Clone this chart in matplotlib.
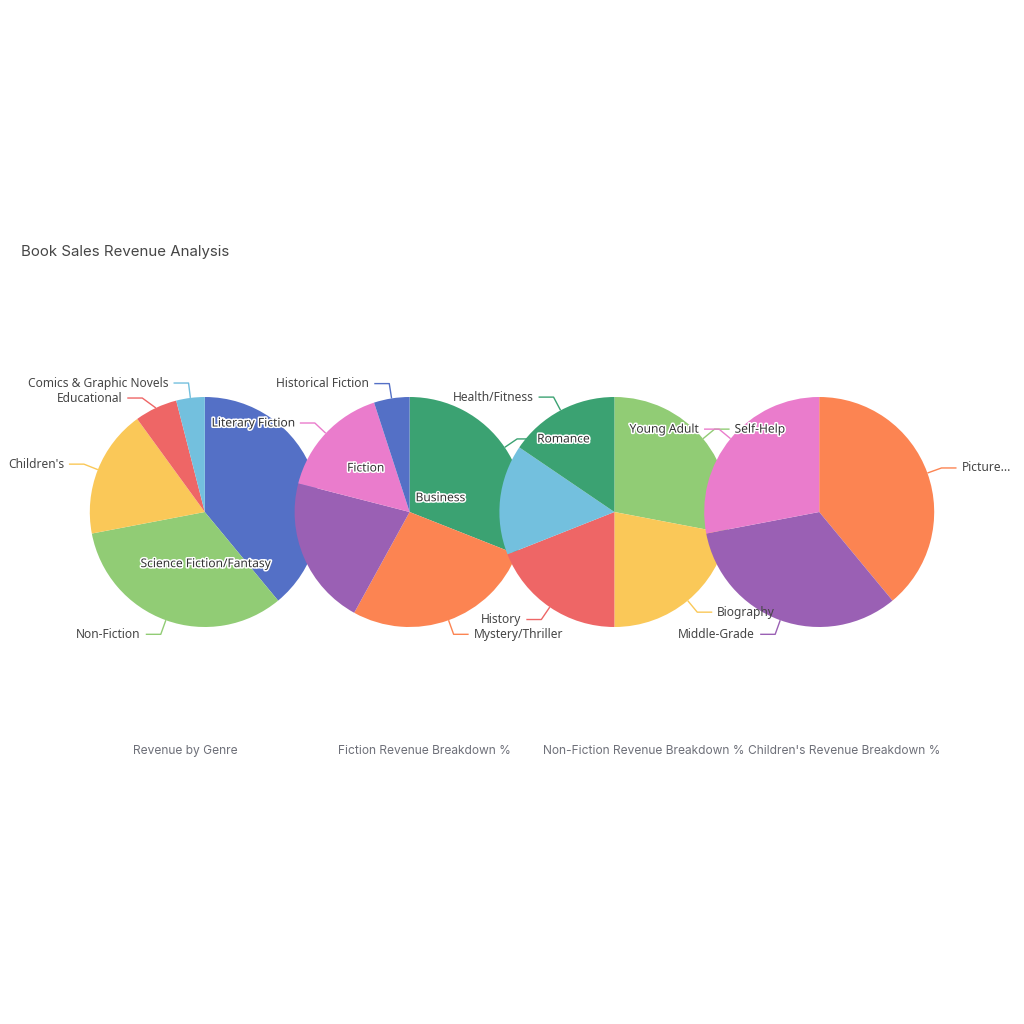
import numpy as np
import matplotlib
matplotlib.use("Agg")
import matplotlib.pyplot as plt
import matplotlib.patheffects as pe

# data (percent shares)
genre_names = ["Fiction", "Non-Fiction", "Children's", "Educational", "Comics & Graphic Novels"]
genre_vals = [39, 33, 18, 6, 4]

fiction_names = ["Romance", "Mystery/Thriller", "Science Fiction/Fantasy", "Literary Fiction", "Historical Fiction"]
fiction_vals = [31, 27, 21, 16, 5]

nonfiction_names = ["Self-Help", "Biography", "History", "Business", "Health/Fitness"]
nonfiction_vals = [28, 22, 19, 15.5, 15.5]

children_names = ["Picture Books", "Middle-Grade", "Young Adult"]
children_vals = [39, 33, 28]

titles = ["Revenue by Genre", "Fiction Revenue Breakdown %",
          "Non-Fiction Revenue Breakdown %", "Children's Revenue Breakdown %"]

palette = ["#5470c6", "#91cc75", "#fac858", "#ee6666", "#73c0de",
           "#3ba272", "#fc8452", "#9a60b4", "#ea7ccc"]

W = H = 1024
R = 115
LEN1, LEN2, GAP = 15, 15, 5
LABEL_PT = 12 * 0.72

fig = plt.figure(figsize=(10.24, 10.24), dpi=100)
ax = fig.add_axes([0, 0, 1, 1])

series = [(genre_names, genre_vals), (fiction_names, fiction_vals),
          (nonfiction_names, nonfiction_vals), (children_names, children_vals)]
centers = [(0.2 * W, H / 2), (0.4 * W, H / 2), (0.6 * W, H / 2), (0.8 * W, H / 2)]

labels = []  # collected label info for all pies
ci = 0
for k, (names, vals) in enumerate(series):
    cols = [palette[(ci + i) % len(palette)] for i in range(len(vals))]
    ci += len(vals)
    cx, cy = centers[k]
    wedges, _ = ax.pie(vals, colors=cols, startangle=90, counterclock=False,
                       center=(cx, cy), radius=R, wedgeprops=dict(linewidth=0))
    for w in wedges:
        w.set_zorder(k + 1)
    items = []
    for w, name, col in zip(wedges, names, cols):
        a = np.deg2rad((w.theta1 + w.theta2) / 2)
        side = 1 if np.cos(a) >= 0 else -1
        edge = (cx + R * np.cos(a), cy + R * np.sin(a))
        ey = cy + (R + LEN1) * np.sin(a)
        items.append(dict(name=name, col=col, side=side, edge=edge, y=ey, k=k))
    # push overlapping labels apart on each side
    for s in (1, -1):
        grp = sorted([it for it in items if it["side"] == s], key=lambda d: -d["y"])
        for i in range(1, len(grp)):
            if grp[i - 1]["y"] - grp[i]["y"] < 15:
                grp[i]["y"] = grp[i - 1]["y"] - 15
    for it in items:
        dy = it["y"] - cy
        ex = cx + it["side"] * np.sqrt(max((R + LEN1) ** 2 - dy ** 2, 0))
        it["elbow"] = (ex, it["y"])
    labels += items

ax.set_xlim(0, W)
ax.set_ylim(0, H)
ax.set_aspect("equal")
ax.set_axis_off()

renderer = fig.canvas.get_renderer()
for it in labels:
    ex, ey = it["elbow"]
    hx = ex + it["side"] * LEN2
    # label lines go under every pie, only the gaps show them
    ax.plot([it["edge"][0], ex, hx], [it["edge"][1], ey, ey], color=it["col"],
            lw=1, zorder=0.5, solid_capstyle="butt")
    tx = hx + it["side"] * GAP
    ha = "left" if it["side"] > 0 else "right"
    t = ax.text(tx, ey, it["name"], ha=ha, va="center", fontsize=LABEL_PT,
                family="Noto Sans", color="#464646", zorder=12)
    # truncate labels that run off the chart
    if t.get_window_extent(renderer).x1 > W - 12:
        txt = it["name"]
        while len(txt) > 1 and t.get_window_extent(renderer).x1 > W - 12:
            txt = txt[:-1]
            t.set_text(txt.rstrip() + "...")
    # halo for labels sitting on top of another pie
    bb = t.get_window_extent(renderer)
    mx, my = (bb.x0 + bb.x1) / 2, (bb.y0 + bb.y1) / 2
    for j, (cx, cy) in enumerate(centers):
        if j != it["k"] and np.hypot(mx - cx, my - cy) < R:
            t.set_color("#333333")
            t.set_path_effects([pe.withStroke(linewidth=2.2, foreground="white")])
            break

ax.text(21, H - 252, "Book Sales Revenue Analysis", ha="left", va="center",
        fontsize=15 * 0.72, family="Inter", color="#464646")
for i, tt in enumerate(titles):
    ax.text((0.13 + 0.2 * i) * W, H - 751, tt, ha="left", va="center",
            fontsize=12 * 0.72, family="Inter", color="#6e7079")

fig.savefig("out.png", dpi=100, facecolor="white")
